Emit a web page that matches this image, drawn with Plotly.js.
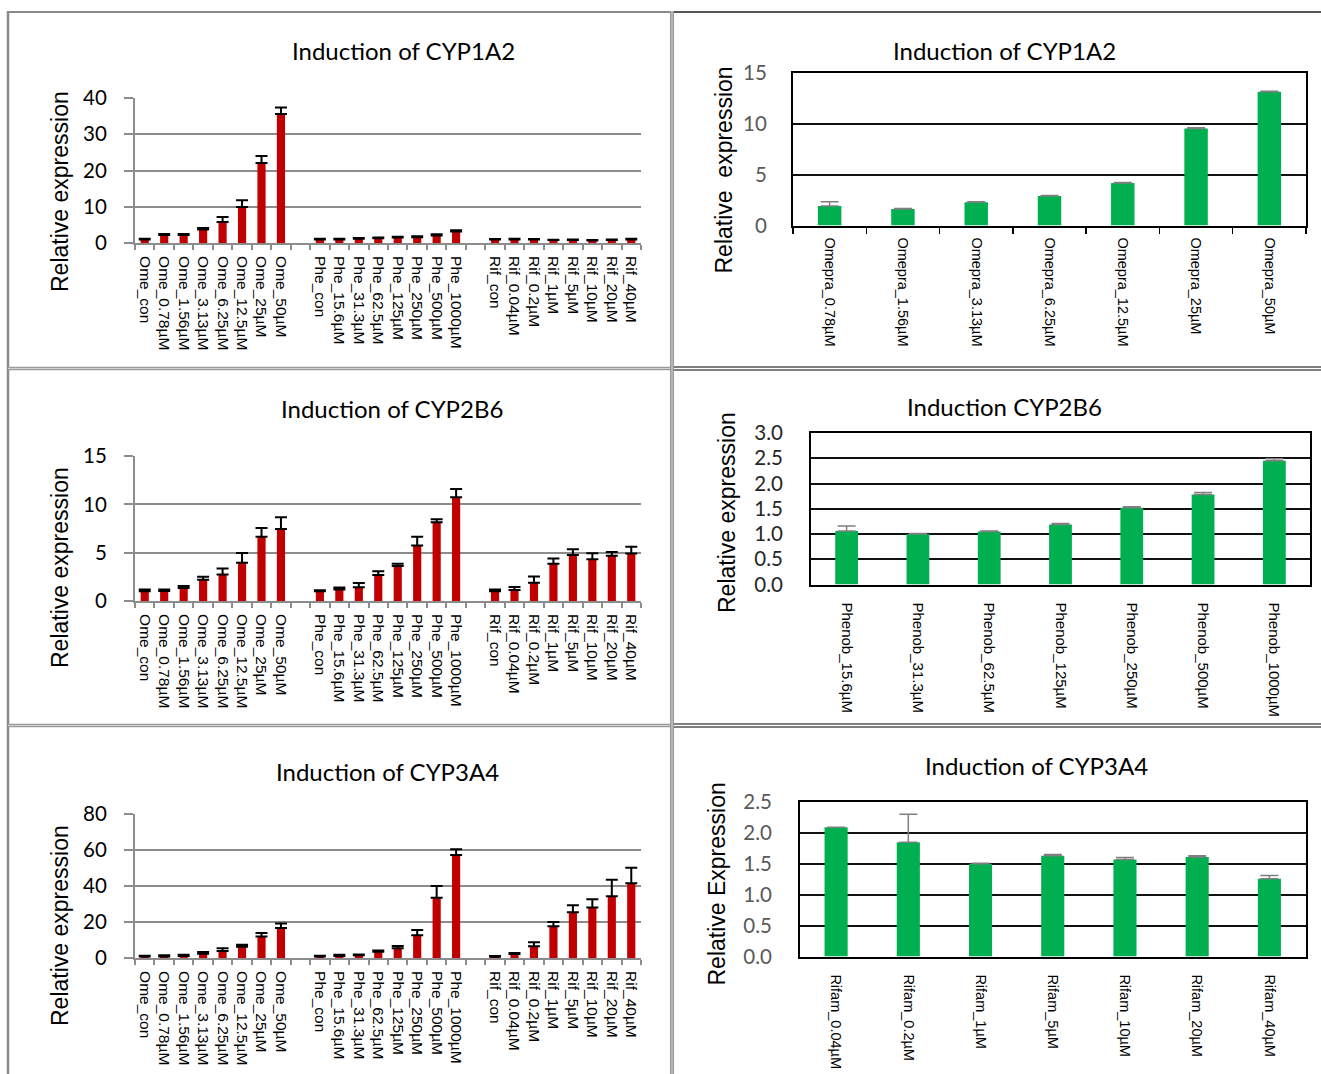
<!DOCTYPE html>
<html><head><meta charset="utf-8">
<script src="https://cdn.plot.ly/plotly-3.0.1.min.js"></script>
<style>html,body{margin:0;padding:0;background:#fff}#chart{width:1321px;height:1074px}</style>
</head><body><div id="chart"></div>
<script>
// ---------- categories ----------
const omeLabels = ['Ome_con','Ome_0.78µM','Ome_1.56µM','Ome_3.13µM','Ome_6.25µM','Ome_12.5µM','Ome_25µM','Ome_50µM'];
const pheLabels = ['Phe_con','Phe_15.6µM','Phe_31.3µM','Phe_62.5µM','Phe_125µM','Phe_250µM','Phe_500µM','Phe_1000µM'];
const rifLabels = ['Rif_con','Rif_0.04µM','Rif_0.2µM','Rif_1µM','Rif_5µM','Rif_10µM','Rif_20µM','Rif_40µM'];
const omepraLabels = ['Omepra_0.78µM','Omepra_1.56µM','Omepra_3.13µM','Omepra_6.25µM','Omepra_12.5µM','Omepra_25µM','Omepra_50µM'];
const phenobLabels = ['Phenob_15.6µM','Phenob_31.3µM','Phenob_62.5µM','Phenob_125µM','Phenob_250µM','Phenob_500µM','Phenob_1000µM'];
const rifamLabels = ['Rifam_0.04µM','Rifam_0.2µM','Rifam_1µM','Rifam_5µM','Rifam_10µM','Rifam_20µM','Rifam_40µM'];

// ---------- CYP1A2 (left) ----------
const cyp1a2Ome = [1.0, 2.2, 2.2, 3.7, 5.8, 9.9, 22.1, 35.6];
const cyp1a2OmeErr = [0.2, 0.3, 0.3, 0.45, 1.4, 1.9, 1.9, 1.8];
const cyp1a2Phe = [1.0, 1.0, 1.2, 1.3, 1.5, 1.6, 2.1, 3.2];
const cyp1a2PheErr = [0.15, 0.15, 0.2, 0.2, 0.25, 0.25, 0.3, 0.3];
const cyp1a2Rif = [0.95, 1.0, 0.95, 0.8, 0.8, 0.7, 0.8, 0.95];
const cyp1a2RifErr = [0.15, 0.2, 0.15, 0.1, 0.15, 0.15, 0.15, 0.2];

// ---------- CYP2B6 (left) ----------
const cyp2b6Ome = [1.0, 1.03, 1.34, 2.2, 2.75, 3.96, 6.64, 7.46];
const cyp2b6OmeErr = [0.2, 0.15, 0.2, 0.3, 0.6, 1.0, 0.9, 1.2];
const cyp2b6Phe = [1.0, 1.2, 1.41, 2.68, 3.61, 5.74, 8.15, 10.73];
const cyp2b6PheErr = [0.1, 0.2, 0.45, 0.4, 0.25, 0.9, 0.3, 0.85];
const cyp2b6Rif = [1.0, 1.14, 1.89, 3.85, 4.75, 4.33, 4.68, 4.92];
const cyp2b6RifErr = [0.2, 0.3, 0.65, 0.55, 0.6, 0.6, 0.4, 0.7];

// ---------- CYP3A4 (left) ----------
const cyp3a4Ome = [0.8, 0.9, 1.1, 2.4, 3.9, 6.3, 12.0, 16.7];
const cyp3a4OmeErr = [0.4, 0.6, 0.7, 0.9, 1.5, 1.1, 1.9, 2.4];
const cyp3a4Phe = [0.8, 1.1, 1.5, 3.5, 5.4, 12.6, 33.5, 57.2];
const cyp3a4PheErr = [0.5, 0.75, 0.5, 0.6, 1.3, 3.0, 6.5, 3.2];
const cyp3a4Rif = [0.7, 2.2, 6.5, 17.6, 25.4, 28.1, 34.3, 41.5];
const cyp3a4RifErr = [0.4, 0.6, 2.2, 2.4, 3.9, 4.5, 9.2, 8.7];

// ---------- right panels ----------
const omepraCyp1a2 = [1.92, 1.62, 2.27, 2.89, 4.16, 9.51, 13.12];
const omepraCyp1a2Err = [0.4, 0.05, 0.05, 0.05, 0.05, 0.08, 0.05];
const phenobCyp2b6 = [1.06, 1.0, 1.05, 1.19, 1.52, 1.78, 2.45];
const phenobCyp2b6Err = [0.1, 0.01, 0.01, 0.02, 0.02, 0.04, 0.04];
const rifamCyp3a4 = [2.09, 1.85, 1.5, 1.63, 1.57, 1.61, 1.26];
const rifamCyp3a4Err = [0.0, 0.45, 0.01, 0.02, 0.03, 0.02, 0.05];

// ---------- helpers ----------
const W = 1321, H = 1074;
const px = x => x / W, py = y => 1 - y / H;
const zeros = a => a.map(() => 0);
const GAP1 = ' ', GAP2 = '  ';
const leftCats = [...omeLabels, GAP1, ...pheLabels, GAP2, ...rifLabels];

const RED = '#C00000', GREEN = '#00B050';
const GRID_L = '#8c8c8c';
const ARIAL = 'Liberation Sans, Arial, sans-serif';
const CALIBRI = 'Lato, Open Sans, sans-serif';

const traces = [];
const layout = {
  width: W, height: H, autosize: false,
  margin: {l: 0, r: 0, t: 0, b: 0},
  paper_bgcolor: '#fff', plot_bgcolor: 'rgba(0,0,0,0)',
  showlegend: false, barmode: 'overlay',
  annotations: [], shapes: []
};

function leftPanel(n, groups, yMax, dtick, box) {
  const xa = 'x' + (n === 1 ? '' : n), ya = 'y' + (n === 1 ? '' : n);
  groups.forEach(g => {
    traces.push({
      type: 'bar', x: g[0], y: g[1], xaxis: xa, yaxis: ya, width: 0.42,
      marker: {color: RED, line: {width: 0}}, hoverinfo: 'skip',
      error_y: {type: 'data', symmetric: false, array: g[2], arrayminus: zeros(g[2]),
                color: '#000', thickness: 2, width: 6}
    });
  });
  layout['xaxis' + (n === 1 ? '' : n)] = {
    domain: [px(box.x0), px(box.x1)], anchor: ya, type: 'category',
    categoryorder: 'array', categoryarray: leftCats, range: [-0.5, leftCats.length - 0.5],
    tickangle: 90, tickfont: {family: ARIAL, size: 15.5, color: '#000'},
    ticks: 'outside', tickson: 'boundaries', ticklen: 5, tickwidth: 2, tickcolor: GRID_L,
    ticklabelstandoff: 8,
    showline: true, linecolor: GRID_L, linewidth: 2, showgrid: false, zeroline: false, fixedrange: true
  };
  layout['yaxis' + (n === 1 ? '' : n)] = {
    domain: [py(box.yb), py(box.yt)], anchor: xa, range: [0, yMax], dtick: dtick, tick0: 0,
    showgrid: true, gridcolor: GRID_L, gridwidth: 2,
    showline: true, linecolor: GRID_L, linewidth: 2,
    ticks: 'outside', ticklen: 9, tickwidth: 2, tickcolor: GRID_L, ticklabelstandoff: 13,
    tickfont: {family: CALIBRI, size: 20.5, color: '#000'}, zeroline: false, fixedrange: true
  };
}

function rightPanel(n, labels, vals, errs, yMax, dtick, fmt, box, opts) {
  const xa = 'x' + n, ya = 'y' + n;
  traces.push({
    type: 'bar', x: labels, y: vals, xaxis: xa, yaxis: ya, width: 0.32,
    marker: {color: GREEN, line: {width: 0}}, hoverinfo: 'skip',
    error_y: {type: 'data', symmetric: false, array: errs, arrayminus: zeros(errs),
              color: '#7f7f7f', thickness: 1.5, width: 9}
  });
  layout['xaxis' + n] = {
    domain: [px(box.x0), px(box.x1)], anchor: ya, type: 'category',
    categoryorder: 'array', categoryarray: labels,
    tickangle: 90, tickfont: {family: ARIAL, size: opts.xfs, color: '#000'},
    ticks: opts.xticks ? 'outside' : '', tickson: 'boundaries', ticklen: 6, tickwidth: 1.5, tickcolor: '#000',
    ticklabelstandoff: opts.xstand,
    showline: true, mirror: true, linecolor: '#000', linewidth: 2,
    showgrid: false, zeroline: false, fixedrange: true
  };
  layout['yaxis' + n] = {
    domain: [py(box.yb), py(box.yt)], anchor: xa, range: [0, yMax], dtick: dtick, tick0: 0,
    tickformat: fmt, showgrid: true, gridcolor: '#111', gridwidth: 2,
    showline: true, mirror: true, linecolor: '#000', linewidth: 2,
    ticks: '', ticklabelstandoff: opts.ystand,
    tickfont: {family: CALIBRI, size: 20.5, color: opts.ycol}, zeroline: false, fixedrange: true
  };
}

leftPanel(1, [[omeLabels, cyp1a2Ome, cyp1a2OmeErr], [pheLabels, cyp1a2Phe, cyp1a2PheErr], [rifLabels, cyp1a2Rif, cyp1a2RifErr]],
  40, 10, {x0: 135, x1: 641, yt: 98, yb: 243});
leftPanel(3, [[omeLabels, cyp2b6Ome, cyp2b6OmeErr], [pheLabels, cyp2b6Phe, cyp2b6PheErr], [rifLabels, cyp2b6Rif, cyp2b6RifErr]],
  15, 5, {x0: 135, x1: 641, yt: 456, yb: 601});
leftPanel(5, [[omeLabels, cyp3a4Ome, cyp3a4OmeErr], [pheLabels, cyp3a4Phe, cyp3a4PheErr], [rifLabels, cyp3a4Rif, cyp3a4RifErr]],
  80, 20, {x0: 135, x1: 641, yt: 814, yb: 958});

rightPanel(2, omepraLabels, omepraCyp1a2, omepraCyp1a2Err, 15, 5, 'd',
  {x0: 793, x1: 1306, yt: 72.5, yb: 225.5}, {xfs: 14.5, xticks: true, xstand: 7, ystand: 20, ycol: '#595959'});
rightPanel(4, phenobLabels, phenobCyp2b6, phenobCyp2b6Err, 3, 0.5, '.1f',
  {x0: 811, x1: 1310, yt: 433, yb: 584.5}, {xfs: 15, xticks: false, xstand: 13, ystand: 22, ycol: '#262626'});
rightPanel(6, rifamLabels, rifamCyp3a4, rifamCyp3a4Err, 2.5, 0.5, '.1f',
  {x0: 800, x1: 1305.5, yt: 802, yb: 956.5}, {xfs: 14.5, xticks: false, xstand: 13, ystand: 22, ycol: '#595959'});

// ---------- titles ----------
const titles = [
  ['Induction of CYP1A2', 403, 50], ['Induction of CYP1A2', 1004, 50],
  ['Induction of CYP2B6', 392, 408], ['Induction CYP2B6', 1004, 407],
  ['Induction of CYP3A4', 387, 771], ['Induction of CYP3A4', 1036, 765]
];
titles.forEach(t => layout.annotations.push({
  text: t[0], x: px(t[1]), y: py(t[2]), xref: 'paper', yref: 'paper',
  xanchor: 'center', yanchor: 'middle', showarrow: false,
  font: {family: CALIBRI, size: 24, color: '#000'}
}));
const yTitles = [
  ['Relative expression', 60, 192], ['Relative\u00a0 expression', 723.5, 170],
  ['Relative expression', 60, 568], ['Relative expression', 727, 513],
  ['Relative expression', 60, 926], ['Relative Expression', 716.5, 884]
];
yTitles.forEach(t => layout.annotations.push({
  text: t[0], x: px(t[1]), y: py(t[2]), xref: 'paper', yref: 'paper',
  xanchor: 'center', yanchor: 'middle', showarrow: false, textangle: -90,
  font: {family: ARIAL, size: 23, color: '#000'}
}));

// ---------- panel frames ----------
function line(x0, y0, x1, y1, color, w) {
  layout.shapes.push({type: 'line', xref: 'paper', yref: 'paper',
    x0: px(x0), y0: py(y0), x1: px(x1), y1: py(y1), line: {color: color, width: w}});
}
line(8, 12, 672, 12, '#8a8a8a', 2);
line(672, 12, 1321, 12, '#555', 2);
line(8, 11, 8, 1074, '#8a8a8a', 2.5);
line(672, 11, 672, 1074, '#9a9a9a', 4);
line(672, 11, 672, 1074, '#cfcfcf', 1);
[368.5, 725.5].forEach(y => {
  line(8, y, 670, y, '#9a9a9a', 3.5);
  line(8, y, 670, y, '#d0d0d0', 1);
  line(674, y - 1.5, 1321, y - 1.5, '#000', 1.2);
  line(674, y + 1.5, 1321, y + 1.5, '#000', 1.2);
});

Plotly.newPlot('chart', traces, layout, {staticPlot: true, displayModeBar: false});
</script></body></html>
